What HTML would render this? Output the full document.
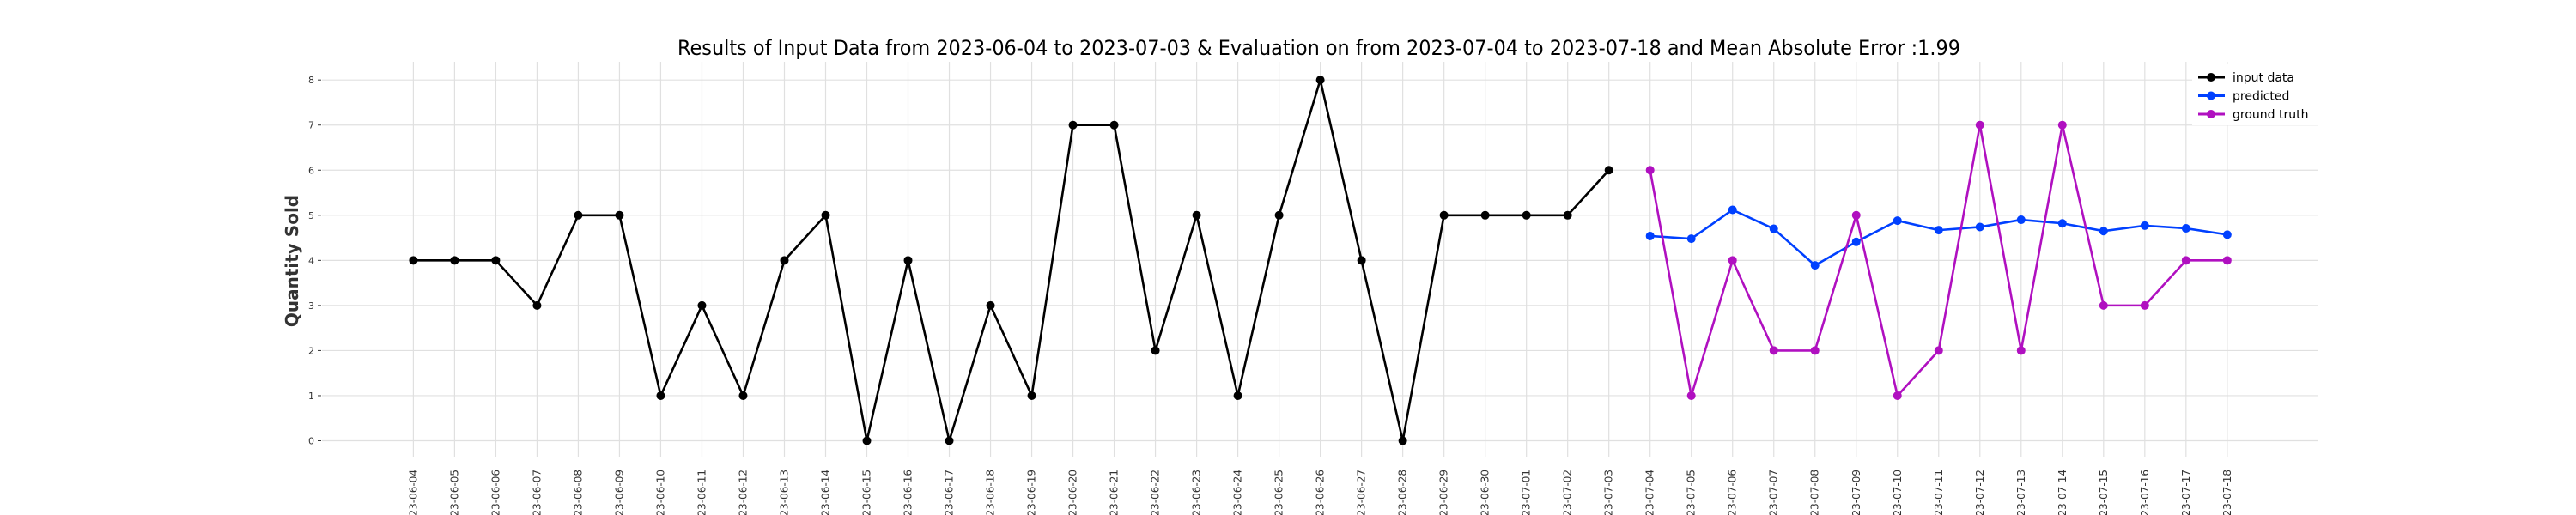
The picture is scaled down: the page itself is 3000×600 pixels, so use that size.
<!DOCTYPE html>
<html><head><meta charset="utf-8"><style>
html,body{margin:0;padding:0;background:#fff;}
svg{display:block;font-family:"DejaVu Sans","Liberation Sans",sans-serif;}
</style></head><body>
<svg id="chart" width="3000" height="600" viewBox="0 0 3000 600" xmlns="http://www.w3.org/2000/svg">
<rect width="3000" height="600" fill="#fff"/>
<text x="1536" y="64" font-size="24" text-anchor="middle" textLength="1494" lengthAdjust="spacingAndGlyphs">Results of Input Data from 2023-06-04 to 2023-07-03 &amp; Evaluation on from 2023-07-04 to 2023-07-18 and Mean Absolute Error  :1.99</text>
<text transform="translate(347,304) rotate(-90)" font-size="20" font-weight="bold" fill="#333" text-anchor="middle">Quantity Sold</text>
<g id="grid"></g><g id="series"></g>
<g>
<rect x="2553" y="74" width="147" height="72" fill="#fff"/>
<g><line x1="2560" y1="90" x2="2591" y2="90" stroke="#000" stroke-width="3"/><circle cx="2575" cy="90" r="5" fill="#000"/><text x="2600" y="95" font-size="14">input data</text></g>
<g><line x1="2560" y1="111.5" x2="2591" y2="111.5" stroke="#0040ff" stroke-width="3"/><circle cx="2575" cy="111.5" r="5" fill="#0040ff"/><text x="2600" y="116.5" font-size="14">predicted</text></g>
<g><line x1="2560" y1="133" x2="2591" y2="133" stroke="#b010c0" stroke-width="3"/><circle cx="2575" cy="133" r="5" fill="#b010c0"/><text x="2600" y="138" font-size="14">ground truth</text></g>
</g>
</svg>
<script>
const inputValues = [4,4,4,3,5,5,1,3,1,4,5,0,4,0,3,1,7,7,2,5,1,5,8,4,0,5,5,5,5,6];
const predictedValues = [4.54,4.48,5.12,4.70,3.89,4.41,4.88,4.67,4.74,4.90,4.82,4.65,4.77,4.71,4.57];
const truthValues = [6,1,4,2,2,5,1,2,7,2,7,3,3,4,4];
const yTicks = [0,1,2,3,4,5,6,7,8];
const startDate = "2023-06-04";
const dayCount = 45;

const NS = "http://www.w3.org/2000/svg";
const x = i => 481.4 + i * 48.01;
const y = v => 513.5 - v * 52.54;
function mk(tag, attrs, parent){const e=document.createElementNS(NS,tag);for(const k in attrs)e.setAttribute(k,attrs[k]);parent.appendChild(e);return e;}
const grid=document.getElementById('grid'), series=document.getElementById('series');
function dateLabel(i){const d=new Date(startDate+"T00:00:00Z");d.setUTCDate(d.getUTCDate()+i);return d.toISOString().slice(0,10);}
yTicks.forEach(t=>{
  const l=mk('line',{x1:375,x2:2700,y1:y(t),y2:y(t),stroke:'#e0e0e0','stroke-width':1.2},grid);
  
  
  mk('line',{x1:370,x2:374,y1:y(t),y2:y(t),stroke:'#333','stroke-width':1},grid);
  const tx=mk('text',{x:366,y:y(t)+4,'font-size':11,'text-anchor':'end',fill:'#333'},grid);
  tx.textContent=t;
  
  
});
for(let i=0;i<dayCount;i++){
  const l=mk('line',{x1:x(i),x2:x(i),y1:72,y2:533,stroke:'#e0e0e0','stroke-width':1.2},grid);
  
  
  const tx=mk('text',{transform:`translate(${x(i)+4},547) rotate(-90)`,'font-size':12,'text-anchor':'end',fill:'#333'},grid);
  tx.textContent=dateLabel(i);
  
  
}
function draw(vals, offset, color, name){
  const g=mk('g',{},series);
  
  
  const pts=vals.map((v,i)=>x(i+offset)+','+y(v)).join(' ');
  mk('polyline',{points:pts,fill:'none',stroke:color,'stroke-width':2.6,'stroke-linejoin':'round'},g);
  vals.forEach((v,i)=>{
    const c=mk('circle',{cx:x(i+offset),cy:y(v),r:5,fill:color},g);
    
    
  });
}
draw(inputValues,0,'#000','input');
draw(predictedValues,inputValues.length,'#0040ff','predicted');
draw(truthValues,inputValues.length,'#b010c0','ground-truth');
</script>
</body></html>
